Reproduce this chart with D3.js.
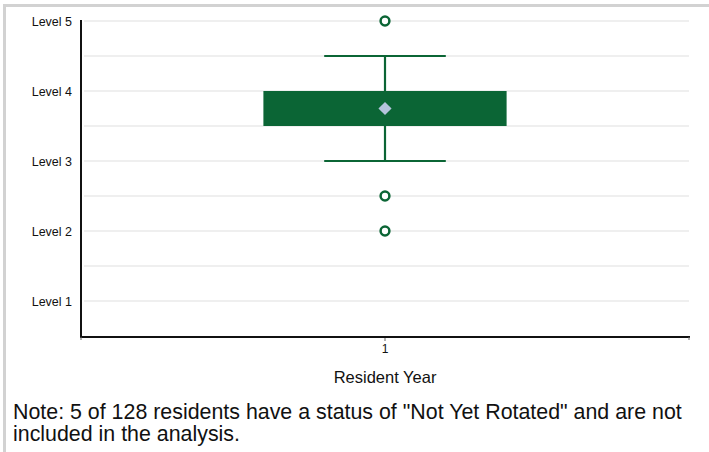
<!DOCTYPE html>
<html>
<head>
<meta charset="utf-8">
<script src="https://cdn.jsdelivr.net/npm/d3@7"></script>
<style>
  html, body { margin: 0; padding: 0; background: #fff; }
  svg { display: block; }
  text { font-family: "Liberation Sans", Arial, Helvetica, sans-serif; fill: #111; }
</style>
</head>
<body>
<svg id="chart" width="709" height="452"></svg>
<script>
// ---- data ----
const categories = ["1"];
const levelValues = [1, 2, 3, 4, 5];
const levelLabels = ["Level 1", "Level 2", "Level 3", "Level 4", "Level 5"];
const gridValues = [1, 1.5, 2, 2.5, 3, 3.5, 4, 4.5, 5];
const q1 = [3.5];
const q3 = [4.0];
const whiskerLow = [3.0];
const whiskerHigh = [4.5];
const means = [3.75];
const outliers = [[5, 2.5, 2]];
const xTitle = "Resident Year";
const noteLines = [
  "Note: 5 of 128 residents have a status of \"Not Yet Rotated\" and are not",
  "included in the analysis."
];

(function () {
// ---- layout ----
const svg = d3.select("#chart");
const mLeft = 81, mRight = 689, mTop = 21, mBottom = 336;
const green = "#0b6535";

// frame (top and left edges visible)
svg.append("rect")
  .attr("x", 4.5).attr("y", 5.5)
  .attr("width", 720).attr("height", 470)
  .attr("fill", "none").attr("stroke", "#d2d2d2").attr("stroke-width", 3);

const x = d3.scaleBand().domain(categories).range([mLeft, mRight]);
const y = d3.scaleLinear().domain([0.5, 5]).range([mBottom, mTop]);

// gridlines
svg.append("g").selectAll("line").data(gridValues).join("line")
  .attr("x1", mLeft + 3).attr("x2", mRight)
  .attr("y1", d => y(d)).attr("y2", d => y(d))
  .attr("stroke", "#efefef").attr("stroke-width", 2);

// y axis
const yAxis = d3.axisLeft(y).tickValues(levelValues)
  .tickFormat((d, i) => levelLabels[i]).tickSize(0).tickPadding(9);
const gy = svg.append("g").attr("transform", `translate(${mLeft},0)`).call(yAxis);
gy.select(".domain").remove();
gy.selectAll("text").attr("font-size", 12.5).style("font-family", "Liberation Sans, Arial, sans-serif").attr("fill", "#111");
svg.append("line").attr("x1", mLeft).attr("x2", mLeft).attr("y1", mTop - 1).attr("y2", mBottom + 2)
  .attr("stroke", "#111").attr("stroke-width", 2);

// x axis
const xAxis = d3.axisBottom(x).tickSize(4).tickPadding(3);
const gx = svg.append("g").attr("transform", `translate(0,${mBottom + 1})`).call(xAxis);
gx.select(".domain").remove();
gx.selectAll(".tick line").attr("stroke", "#666");
gx.selectAll("text").attr("font-size", 12).style("font-family", "Liberation Sans, Arial, sans-serif").attr("fill", "#111");
svg.append("line").attr("x1", mLeft - 1).attr("x2", mRight + 1).attr("y1", mBottom + 1).attr("y2", mBottom + 1)
  .attr("stroke", "#111").attr("stroke-width", 2.2);
svg.append("line").attr("x1", mRight).attr("x2", mRight).attr("y1", mBottom + 1).attr("y2", mBottom + 4)
  .attr("stroke", "#666").attr("stroke-width", 1);
svg.append("line").attr("x1", mLeft).attr("x2", mLeft).attr("y1", mBottom + 1).attr("y2", mBottom + 4)
  .attr("stroke", "#666").attr("stroke-width", 1);

// box plot
const bw = x.bandwidth();
const g = svg.append("g");
categories.forEach((c, i) => {
  const cx = x(c) + bw / 2;
  const boxW = bw * 0.4, capW = bw * 0.2;
  g.append("line").attr("x1", cx).attr("x2", cx).attr("y1", y(whiskerHigh[i])).attr("y2", y(q3[i]))
    .attr("stroke", green).attr("stroke-width", 2.2);
  g.append("line").attr("x1", cx).attr("x2", cx).attr("y1", y(q1[i])).attr("y2", y(whiskerLow[i]))
    .attr("stroke", green).attr("stroke-width", 2.2);
  [whiskerHigh[i], whiskerLow[i]].forEach(v => {
    g.append("line").attr("x1", cx - capW / 2).attr("x2", cx + capW / 2)
      .attr("y1", y(v)).attr("y2", y(v)).attr("stroke", green).attr("stroke-width", 2.2);
  });
  g.append("rect").attr("x", cx - boxW / 2).attr("y", y(q3[i]))
    .attr("width", boxW).attr("height", y(q1[i]) - y(q3[i]))
    .attr("fill", green);
  g.append("path").attr("d", d3.symbol(d3.symbolDiamond2, 110)())
    .attr("transform", `translate(${cx},${y(means[i])})`)
    .attr("fill", "#b4c4dc");
  g.selectAll(null).data(outliers[i]).join("circle")
    .attr("cx", cx).attr("cy", d => y(d)).attr("r", 4.4)
    .attr("fill", "#fff").attr("stroke", green).attr("stroke-width", 2.5);
});

// x title
svg.append("text").attr("x", (mLeft + mRight) / 2).attr("y", 383)
  .attr("text-anchor", "middle").attr("font-size", 16.5).text(xTitle);

// note (two separate lines)
const noteTexts = noteLines.map((t, i) =>
  svg.append("text").attr("x", 13).attr("y", 419 + i * 22).attr("font-size", 18).text(t));
const w = noteTexts[0].node().getComputedTextLength();
const fs = (18 * 669 / w).toFixed(2);
noteTexts.forEach(t => t.attr("font-size", fs));
})();
</script>
</body>
</html>
